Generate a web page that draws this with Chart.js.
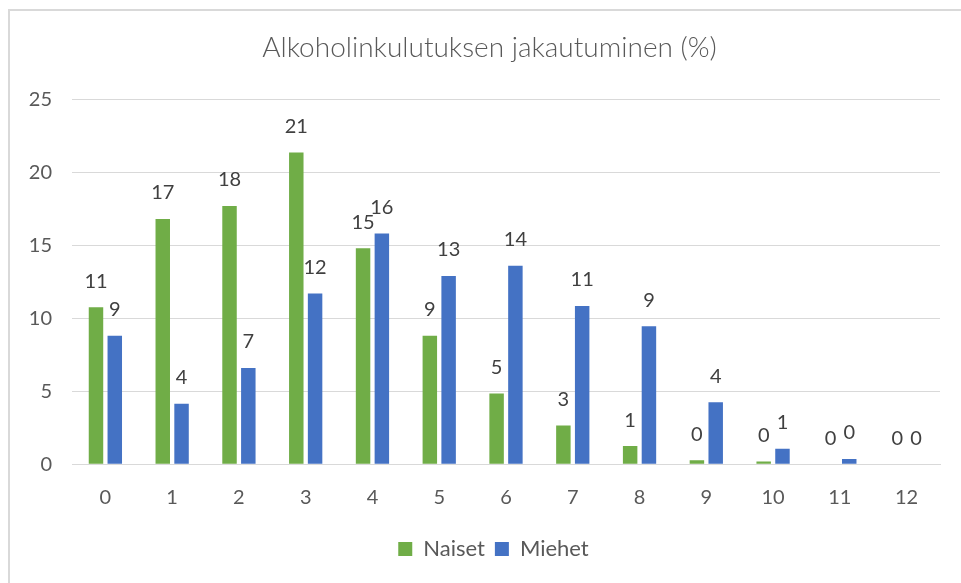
<!DOCTYPE html>
<html>
<head>
<meta charset="utf-8">
<script src="https://cdn.jsdelivr.net/npm/chart.js@4/dist/chart.umd.min.js"></script>
<style>
  html, body { margin: 0; padding: 0; background: #fff; overflow: hidden; }
  #wrap { position: relative; width: 961px; height: 583px; }
  #frame {
    position: absolute; left: 8px; top: 9px; right: -10px; bottom: -10px;
    border: 2px solid #d9d9d9; pointer-events: none;
  }
</style>
</head>
<body>
<div id="wrap">
  <canvas id="chart" width="961" height="583"></canvas>
  <div id="frame"></div>
</div>
<script>
const categories = ["0", "1", "2", "3", "4", "5", "6", "7", "8", "9", "10", "11", "12"];
const naiset = [10.75, 16.8, 17.7, 21.35, 14.8, 8.8, 4.85, 2.65, 1.25, 0.27, 0.2, 0, 0];
const miehet = [8.8, 4.15, 6.6, 11.7, 15.8, 12.9, 13.6, 10.85, 9.45, 4.25, 1.07, 0.36, 0];
const yTicks = [0, 5, 10, 15, 20, 25];

const textColor = "#595959";
const gridColor = "#d9d9d9";
const fontFamily = "Lato, 'Noto Sans', sans-serif";

// Excel-style "outside end" labels, rounded to whole percent
const valueLabels = {
  id: "valueLabels",
  afterDatasetsDraw(chart) {
    const ctx = chart.ctx;
    ctx.save();
    ctx.font = `20px ${fontFamily}`;
    ctx.fillStyle = "#404040";
    ctx.textAlign = "center";
    ctx.textBaseline = "middle";
    chart.data.datasets.forEach((dataset, i) => {
      chart.getDatasetMeta(i).data.forEach((bar, j) => {
        ctx.fillText(String(Math.round(dataset.data[j])), bar.x, bar.y - 26);
      });
    });
    ctx.restore();
  },
};

// Excel centres title and legend on the plot area rather than the whole canvas
const shiftBlocks = {
  id: "shiftBlocks",
  afterLayout(chart) {
    const move = (box, dx) => {
      if (!box) return;
      box.left += dx;
      box.right += dx;
    };
    move(chart.titleBlock, 19.5);
    move(chart.legend, 23.5);
  },
};

new Chart(document.getElementById("chart"), {
  type: "bar",
  data: {
    labels: categories,
    datasets: [
      {
        label: "Naiset",
        data: naiset,
        backgroundColor: "#70ad47",
        categoryPercentage: 0.563,
        barPercentage: 0.77,
      },
      {
        label: "Miehet",
        data: miehet,
        backgroundColor: "#4472c4",
        categoryPercentage: 0.563,
        barPercentage: 0.77,
      },
    ],
  },
  options: {
    responsive: false,
    animation: false,
    layout: { padding: { left: 0, right: 21, top: 0, bottom: 13 } },
    plugins: {
      title: {
        display: true,
        text: "Alkoholinkulutuksen jakautuminen (%)",
        color: textColor,
        font: { family: fontFamily, size: 28, weight: 300 },
        padding: { top: 31.5, bottom: 34.2 },
      },
      legend: {
        position: "bottom",
        labels: {
          color: textColor,
          font: { family: fontFamily, size: 22 },
          boxWidth: 14,
          boxHeight: 14,
          padding: 10,
        },
      },
      tooltip: { enabled: false },
    },
    scales: {
      x: {
        grid: { display: false, drawTicks: false },
        border: { display: true, color: gridColor },
        ticks: { color: textColor, font: { family: fontFamily, size: 20 }, padding: 21 },
        afterFit(scale) {
          scale.height = 63.7;
        },
      },
      y: {
        min: 0,
        max: 25,
        grid: { color: gridColor, drawTicks: false },
        border: { display: false },
        ticks: {
          color: textColor,
          font: { family: fontFamily, size: 20 },
          padding: 20,
          stepSize: 5,
        },
        afterBuildTicks(scale) {
          scale.ticks = yTicks.map((v) => ({ value: v }));
        },
        afterFit(scale) {
          scale.width = 72;
        },
      },
    },
  },
  plugins: [valueLabels, shiftBlocks],
});
</script>
</body>
</html>
